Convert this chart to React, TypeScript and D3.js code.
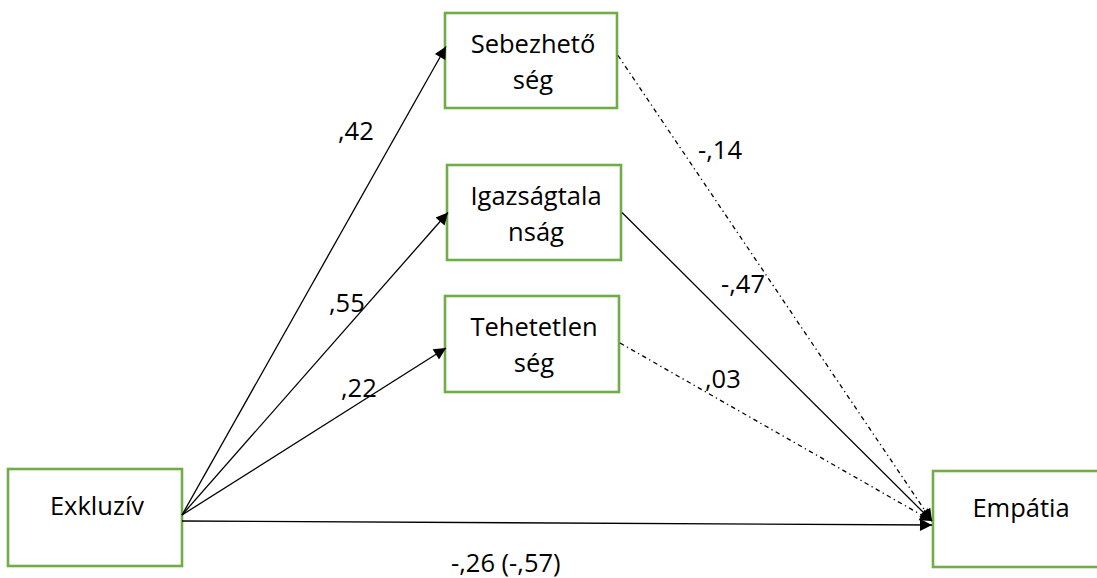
import * as d3 from "d3";

// Path model: Exkluzív -> mediators -> Empátia
const mediatorLines: string[][] = [
  ["Sebezhető", "ség"],
  ["Igazságtala", "nság"],
  ["Tehetetlen", "ség"],
];
const sourceLabel = "Exkluzív";
const targetLabel = "Empátia";
const aPaths = [",42", ",55", ",22"]; // source -> mediator
const bPaths = ["-,14", "-,47", ",03"]; // mediator -> target
const bSolid = [false, true, false];
const directPath = "-,26 (-,57)";

// layout (pixels)
const W = 1097;
const H = 578;
const medBoxes = [
  { x: 445, y: 13, w: 172, h: 95 },
  { x: 447, y: 165, w: 174, h: 95 },
  { x: 445, y: 296, w: 174, h: 96 },
];
const srcBox = { x: 8, y: 469, w: 174, h: 97 };
const tgtBox = { x: 933, y: 471, w: 180, h: 96 };
const aLabelPos = [
  [338, 140],
  [329, 312],
  [341, 397],
];
const bLabelPos = [
  [698, 159],
  [721, 293],
  [705, 388],
];
const directLabelPos = [451, 572];

const GREEN = "#70AD47";
const FONT = "'Open Sans', Lato, sans-serif";
const FS = 25.5;

export default function App() {
  const origin: [number, number] = [182, 515];
  const tip: [number, number] = [932, 521];
  const line = d3.line();

  return (
    <svg
      width={W}
      height={H}
      style={{ position: "absolute", left: 0, top: 0, background: "#fff" }}
      fontFamily={FONT}
    >
      <defs>
        <marker
          id="head"
          viewBox="0 0 10 10"
          refX={10}
          refY={5}
          markerUnits="userSpaceOnUse"
          markerWidth={15}
          markerHeight={12}
          orient="auto"
        >
          <path d="M0,0 L10,5 L0,10 z" fill="#000" />
        </marker>
      </defs>

      {/* boxes */}
      {[srcBox, tgtBox, ...medBoxes].map((b, i) => (
        <rect
          key={i}
          x={b.x}
          y={b.y}
          width={b.w}
          height={b.h}
          fill="#fff"
          stroke={GREEN}
          strokeWidth={2.6}
        />
      ))}

      {/* a paths */}
      {medBoxes.map((b, i) => {
        const end: [number, number] = [b.x + 1, b.y + b.h / 2 - (i === 0 ? 14 : 0) + (i === 2 ? 4 : 0)];
        return (
          <path
            key={"a" + i}
            d={line([origin, end]) || ""}
            stroke="#000"
            strokeWidth={1.3}
            fill="none"
            markerEnd="url(#head)"
          />
        );
      })}

      {/* b paths */}
      {medBoxes.map((b, i) => {
        const start: [number, number] = [b.x + b.w + 1, b.y + b.h / 2 + (i === 0 ? -5 : 0) + (i === 2 ? -1 : 0)];
        return (
          <path
            key={"b" + i}
            d={line([start, tip]) || ""}
            stroke="#000"
            strokeWidth={1.3}
            strokeDasharray={bSolid[i] ? undefined : "4.5 3.5 1.3 3.5"}
            fill="none"
            markerEnd="url(#head)"
          />
        );
      })}

      {/* direct path */}
      <path
        d={line([[182, 521], [932, 525]]) || ""}
        stroke="#000"
        strokeWidth={1.3}
        fill="none"
        markerEnd="url(#head)"
      />

      {/* box texts */}
      {medBoxes.map((b, i) => (
        <text
          key={"t" + i}
          x={b.x + b.w / 2}
          textAnchor="middle"
          fontSize={FS}
          fill="#000"
        >
          {mediatorLines[i].map((s, j) => (
            <tspan key={j} x={b.x + b.w / 2 + 2} y={b.y + 40 + j * 36}>
              {s}
            </tspan>
          ))}
        </text>
      ))}
      <text x={srcBox.x + srcBox.w / 2 + 2} y={515} textAnchor="middle" fontSize={FS}>
        {sourceLabel}
      </text>
      <text x={tgtBox.x + 88} y={517} textAnchor="middle" fontSize={FS}>
        {targetLabel}
      </text>

      {/* coefficients */}
      {aPaths.map((s, i) => (
        <text key={"al" + i} x={aLabelPos[i][0]} y={aLabelPos[i][1]} fontSize={FS}>
          {s}
        </text>
      ))}
      {bPaths.map((s, i) => (
        <text key={"bl" + i} x={bLabelPos[i][0]} y={bLabelPos[i][1]} fontSize={FS}>
          {s}
        </text>
      ))}
      <text x={directLabelPos[0]} y={directLabelPos[1]} fontSize={FS}>
        {directPath}
      </text>
    </svg>
  );
}
